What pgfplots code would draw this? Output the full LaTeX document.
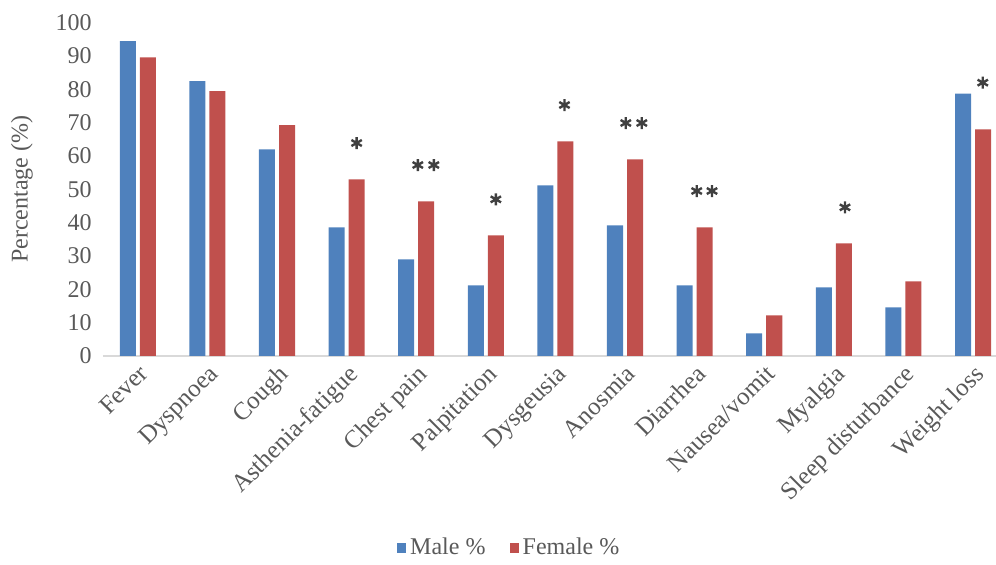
\documentclass[border=0pt]{standalone}
\usepackage{fontspec}
\setmainfont{Liberation Serif}
\usepackage{pgfplots}
\pgfplotsset{compat=1.18}
\definecolor{mblue}{HTML}{4F81BD}
\definecolor{fred}{HTML}{C0504D}
\definecolor{txt}{HTML}{595959}
\begin{document}
\begin{tikzpicture}
\useasboundingbox (-51.5pt,-104.5pt) rectangle (446.5pt,178pt);
\begin{axis}[
  at={(0pt,0pt)}, anchor=south west,
  scale only axis, width=446.5pt, height=166.65pt,
  xmin=-0.5, xmax=12.33, ymin=0, ymax=100,
  ybar,
  axis lines=left,
  x axis line style={draw=black!15, line width=0.8pt, -},
  y axis line style={draw=none},
  tick style={draw=none},
  ytick={0,10,...,100},
  xtick={0,...,12},
  xticklabels={Fever,Dyspnoea,Cough,Asthenia-fatigue,Chest pain,Palpitation,Dysgeusia,Anosmia,Diarrhea,Nausea/vomit,Myalgia,Sleep disturbance,Weight loss},
  xticklabel style={rotate=45, anchor=north east, inner sep=1pt, font=\fontsize{12.5}{14}\selectfont, text=txt},
  yticklabel style={font=\fontsize{12}{14}\selectfont, text=txt},
  /pgf/number format/assume math mode=true,
  ylabel={Percentage (\%)},
  ylabel style={at={(axis description cs:-0.0907,0.5)}, anchor=center, rotate=0, font=\fontsize{12}{14}\selectfont, text=txt},
  legend columns=2,
  legend style={draw=none, at={(axis description cs:0.456,-0.576)}, anchor=center, font=\fontsize{12}{14}\selectfont, text=txt, /tikz/every even column/.append style={column sep=10pt}},
  legend image code/.code={\fill[#1] (0pt,-2.3pt) rectangle (4.6pt,2.3pt);},
]
\addplot[fill=mblue, draw=none, bar width=0.23, bar shift=-0.144] coordinates {
(0,94.5) (1,82.5) (2,62) (3,38.6) (4,29) (5,21.2) (6,51.2) (7,39.2) (8,21.2) (9,6.8) (10,20.6) (11,14.6) (12,78.7)};
\addlegendentry{Male \%}
\addplot[fill=fred, draw=none, bar width=0.23, bar shift=0.144] coordinates {
(0,89.6) (1,79.5) (2,69.3) (3,53) (4,46.4) (5,36.2) (6,64.4) (7,59) (8,38.6) (9,12.2) (10,33.8) (11,22.4) (12,68)};
\addlegendentry{Female \%}
\addplot[only marks, mark=asterisk, mark size=3pt, mark options={line width=1.2pt, draw=black!75}, forget plot] coordinates {
(3.144,63.9) (4.023,57.3) (4.253,57.3) (5.144,47) (6.13,75.3) (7.011,69.9) (7.241,69.9) (8.03,49.5) (8.25,49.5) (10.16,44.6) (12.14,82)};
\end{axis}
\end{tikzpicture}
\end{document}
